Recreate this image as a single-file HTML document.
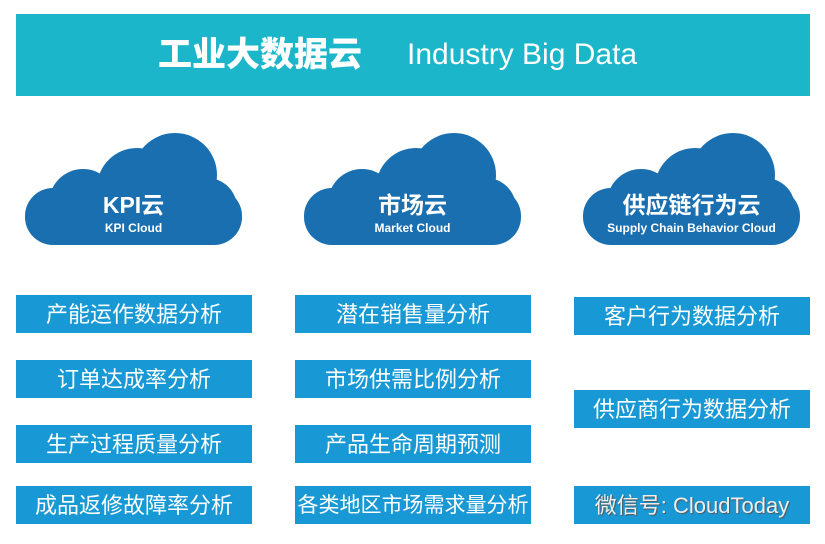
<!DOCTYPE html>
<html><head><meta charset="utf-8"><style>
body{margin:0;width:825px;height:544px;background:#fff;position:relative;overflow:hidden;font-family:"Liberation Sans","Noto Sans CJK SC",sans-serif}
.hdr{position:absolute;left:16px;top:14px;width:794px;height:82px;background:#1bb6c9;color:#fff;font-weight:bold;line-height:82px;font-size:34px}
.hdr b{position:absolute;left:142px}
.hdr span{position:absolute;left:391px;font-size:30px;font-weight:normal}
.b{position:absolute;width:236px;height:38px;background:#1899d5;color:#fff;font-size:22px;text-align:center;line-height:40px;white-space:nowrap;overflow:hidden}
.c{position:absolute;color:#fff;text-align:center;font-weight:bold;line-height:1}
</style></head><body>
<div class="hdr"><b>工业大数据云</b><span>Industry Big Data</span></div>
<svg width="825" height="544" style="position:absolute;left:0;top:0">
<defs><g id="cl" fill="#1a6fb0">
<rect x="0" y="55" width="217" height="57" rx="28"/>
<circle cx="58" cy="70" r="34"/>
<circle cx="112" cy="55" r="40"/>
<circle cx="150" cy="42" r="42"/>
<circle cx="182" cy="75" r="30"/>
</g></defs>
<use href="#cl" x="25" y="133"/>
<use href="#cl" x="304" y="133"/>
<use href="#cl" x="583" y="133"/>
</svg>
<div class="c" style="left:25px;top:194px;width:217px;font-size:23px">KPI云</div>
<div class="c" style="left:25px;top:222px;width:217px;font-size:12px">KPI Cloud</div>
<div class="c" style="left:304px;top:194px;width:217px;font-size:23px">市场云</div>
<div class="c" style="left:304px;top:222px;width:217px;font-size:12px">Market Cloud</div>
<div class="c" style="left:583px;top:194px;width:217px;font-size:23px">供应链行为云</div>
<div class="c" style="left:583px;top:222px;width:217px;font-size:12px">Supply Chain Behavior Cloud</div>

<div class="b" style="left:16px;top:295px">产能运作数据分析</div>
<div class="b" style="left:16px;top:360px">订单达成率分析</div>
<div class="b" style="left:16px;top:425px">生产过程质量分析</div>
<div class="b" style="left:16px;top:486px">成品返修故障率分析</div>
<div class="b" style="left:295px;top:295px">潜在销售量分析</div>
<div class="b" style="left:295px;top:360px">市场供需比例分析</div>
<div class="b" style="left:295px;top:425px">产品生命周期预测</div>
<div class="b" style="left:295px;top:486px;font-size:21px">各类地区市场需求量分析</div>
<div class="b" style="left:574px;top:297px">客户行为数据分析</div>
<div class="b" style="left:574px;top:390px">供应商行为数据分析</div>
<div class="b" style="left:574px;top:486px;color:#eee;text-shadow:1px 1px 1px #555">微信号: CloudToday</div>
</body></html>
